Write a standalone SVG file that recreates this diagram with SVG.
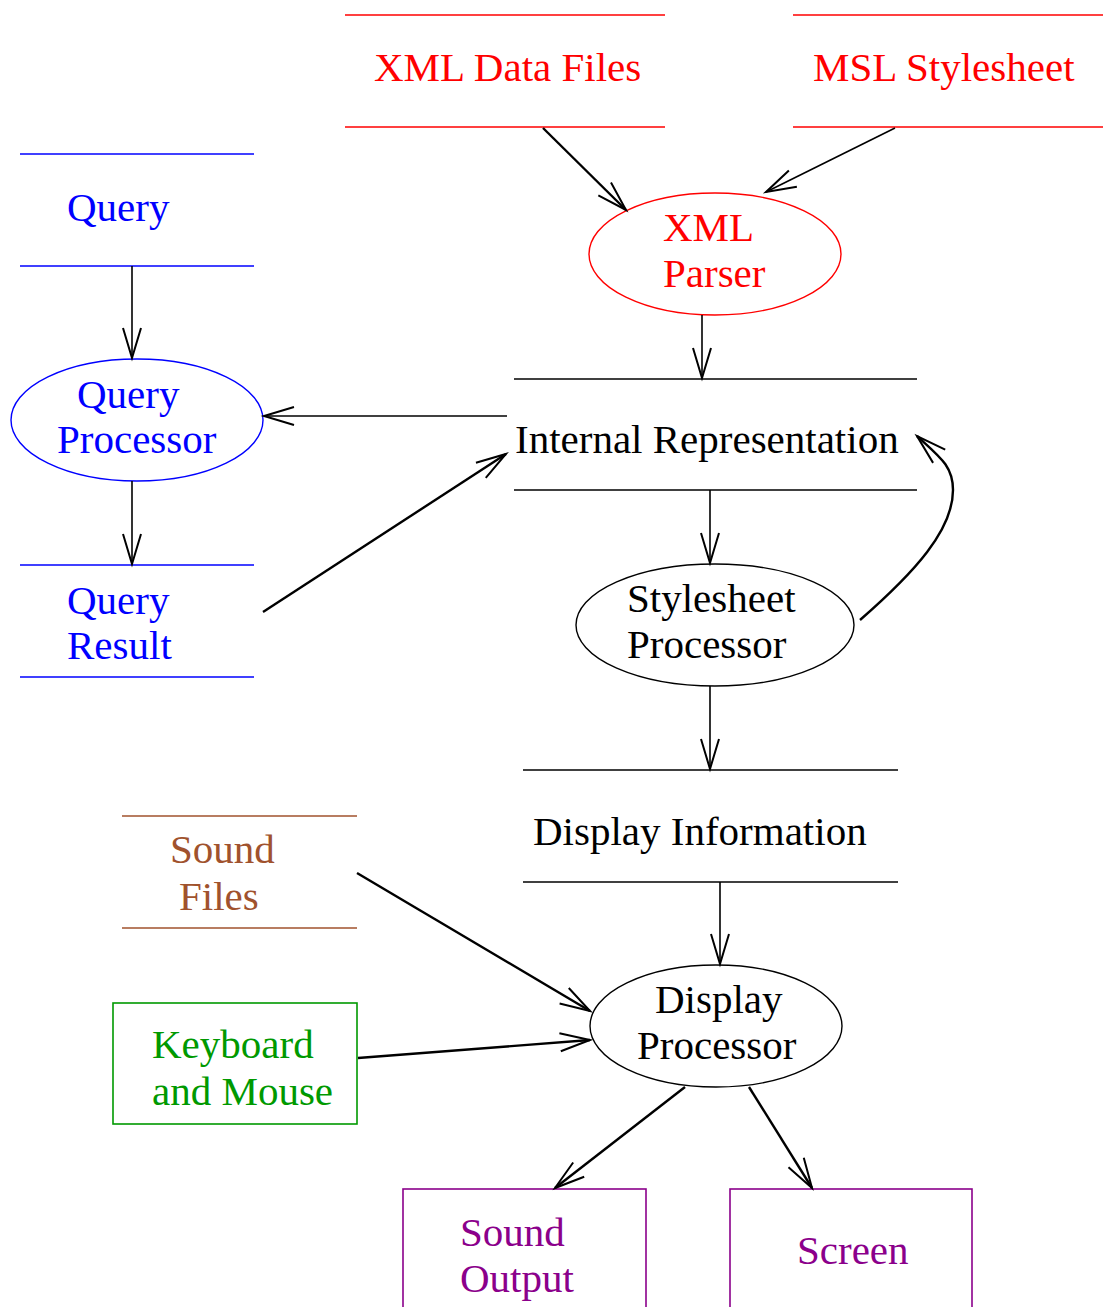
<svg xmlns="http://www.w3.org/2000/svg" width="1103" height="1307" viewBox="0 0 1103 1307">
<defs>
<style>
text{font-family:"Liberation Serif","Times New Roman",serif;font-size:41px}
.red{fill:#ff0000}.blue{fill:#0000ff}.blk{fill:#000}.brn{fill:#a0522d}.grn{fill:#009900}.pur{fill:#8b008b}
.ln{stroke-width:1.6;fill:none}
.c{stroke:#000;fill:none}
.thin{stroke-width:1.6}.thick{stroke-width:2.4}
</style>
<marker id="ah" markerUnits="userSpaceOnUse" viewBox="-32 -12 36 24" refX="0" refY="0" markerWidth="36" markerHeight="24" orient="auto">
<path d="M-30,-9 L0,0 L-30,9" fill="none" stroke="#000" stroke-width="2"/>
</marker>
</defs>
<rect width="1103" height="1307" fill="#fff"/>

<g id="xml-data-files">
<line x1="345" y1="15" x2="665" y2="15" stroke="#ff0000" class="ln"/>
<line x1="345" y1="127" x2="665" y2="127" stroke="#ff0000" class="ln"/>
<text x="374" y="81" class="red">XML Data Files</text>
</g>
<g id="msl-stylesheet">
<line x1="793" y1="15" x2="1103" y2="15" stroke="#ff0000" class="ln"/>
<line x1="793" y1="127" x2="1103" y2="127" stroke="#ff0000" class="ln"/>
<text x="813" y="81" class="red">MSL Stylesheet</text>
</g>
<g id="xml-parser">
<ellipse cx="715" cy="254" rx="126" ry="61" fill="none" stroke="#ff0000" stroke-width="1.4"/>
<text x="663" y="241" class="red">XML</text>
<text x="663" y="287" class="red">Parser</text>
</g>
<g id="internal-representation">
<line x1="514" y1="379" x2="917" y2="379" stroke="#000" class="ln"/>
<line x1="514" y1="490" x2="917" y2="490" stroke="#000" class="ln"/>
<text x="515" y="453" class="blk">Internal Representation</text>
</g>
<g id="query">
<line x1="20" y1="154" x2="254" y2="154" stroke="#0000ff" class="ln"/>
<line x1="20" y1="266" x2="254" y2="266" stroke="#0000ff" class="ln"/>
<text x="67" y="221" class="blue">Query</text>
</g>
<g id="query-processor">
<ellipse cx="137" cy="420" rx="126" ry="61" fill="none" stroke="#0000ff" stroke-width="1.4"/>
<text x="77" y="408" class="blue">Query</text>
<text x="57" y="453" class="blue">Processor</text>
</g>
<g id="query-result">
<line x1="20" y1="565" x2="254" y2="565" stroke="#0000ff" class="ln"/>
<line x1="20" y1="677" x2="254" y2="677" stroke="#0000ff" class="ln"/>
<text x="67" y="614" class="blue">Query</text>
<text x="67" y="659" class="blue">Result</text>
</g>
<g id="stylesheet-processor">
<ellipse cx="715" cy="625" rx="139" ry="61" fill="none" stroke="#000" stroke-width="1.4"/>
<text x="627" y="612" class="blk">Stylesheet</text>
<text x="627" y="658" class="blk">Processor</text>
</g>
<g id="display-information">
<line x1="523" y1="770" x2="898" y2="770" stroke="#000" class="ln"/>
<line x1="523" y1="882" x2="898" y2="882" stroke="#000" class="ln"/>
<text x="533" y="845" class="blk">Display Information</text>
</g>
<g id="display-processor">
<ellipse cx="716" cy="1026" rx="126" ry="61" fill="none" stroke="#000" stroke-width="1.4"/>
<text x="655" y="1013" class="blk">Display</text>
<text x="637" y="1059" class="blk">Processor</text>
</g>
<g id="sound-files">
<line x1="122" y1="816" x2="357" y2="816" stroke="#a0522d" class="ln"/>
<line x1="122" y1="928" x2="357" y2="928" stroke="#a0522d" class="ln"/>
<text x="170" y="863" class="brn">Sound</text>
<text x="179" y="910" class="brn">Files</text>
</g>
<g id="keyboard-and-mouse">
<rect x="113" y="1003" width="244" height="121" fill="none" stroke="#009900" stroke-width="1.6"/>
<text x="152" y="1058" class="grn">Keyboard</text>
<text x="152" y="1105" class="grn">and Mouse</text>
</g>
<g id="sound-output">
<rect x="403" y="1189" width="243" height="140" fill="none" stroke="#8b008b" stroke-width="1.6"/>
<text x="460" y="1246" class="pur">Sound</text>
<text x="460" y="1292" class="pur">Output</text>
</g>
<g id="screen">
<rect x="730" y="1189" width="242" height="140" fill="none" stroke="#8b008b" stroke-width="1.6"/>
<text x="797" y="1264" class="pur">Screen</text>
</g>

<g id="connectors">
<line x1="543" y1="128" x2="626" y2="210" class="c thick" marker-end="url(#ah)"/>
<line x1="895" y1="128" x2="766" y2="192" class="c thin" marker-end="url(#ah)"/>
<line x1="702" y1="315" x2="702" y2="378" class="c thin" marker-end="url(#ah)"/>
<line x1="132" y1="266" x2="132" y2="358" class="c thin" marker-end="url(#ah)"/>
<line x1="507" y1="416" x2="264" y2="416" class="c thin" marker-end="url(#ah)"/>
<line x1="132" y1="481" x2="132" y2="564" class="c thin" marker-end="url(#ah)"/>
<line x1="263" y1="612" x2="506" y2="454" class="c thick" marker-end="url(#ah)"/>
<line x1="710" y1="490" x2="710" y2="563" class="c thin" marker-end="url(#ah)"/>
<path d="M860,620 C915,572 953,530 953,490 C953,466 940,457 917,436" class="c thick" marker-end="url(#ah)"/>
<line x1="710" y1="686" x2="710" y2="769" class="c thin" marker-end="url(#ah)"/>
<line x1="720" y1="882" x2="720" y2="964" class="c thin" marker-end="url(#ah)"/>
<line x1="357" y1="873" x2="590" y2="1011" class="c thick" marker-end="url(#ah)"/>
<line x1="358" y1="1058" x2="590" y2="1040" class="c thick" marker-end="url(#ah)"/>
<line x1="685" y1="1087" x2="555" y2="1188" class="c thick" marker-end="url(#ah)"/>
<line x1="749" y1="1087" x2="812" y2="1188" class="c thick" marker-end="url(#ah)"/>
</g>
</svg>
